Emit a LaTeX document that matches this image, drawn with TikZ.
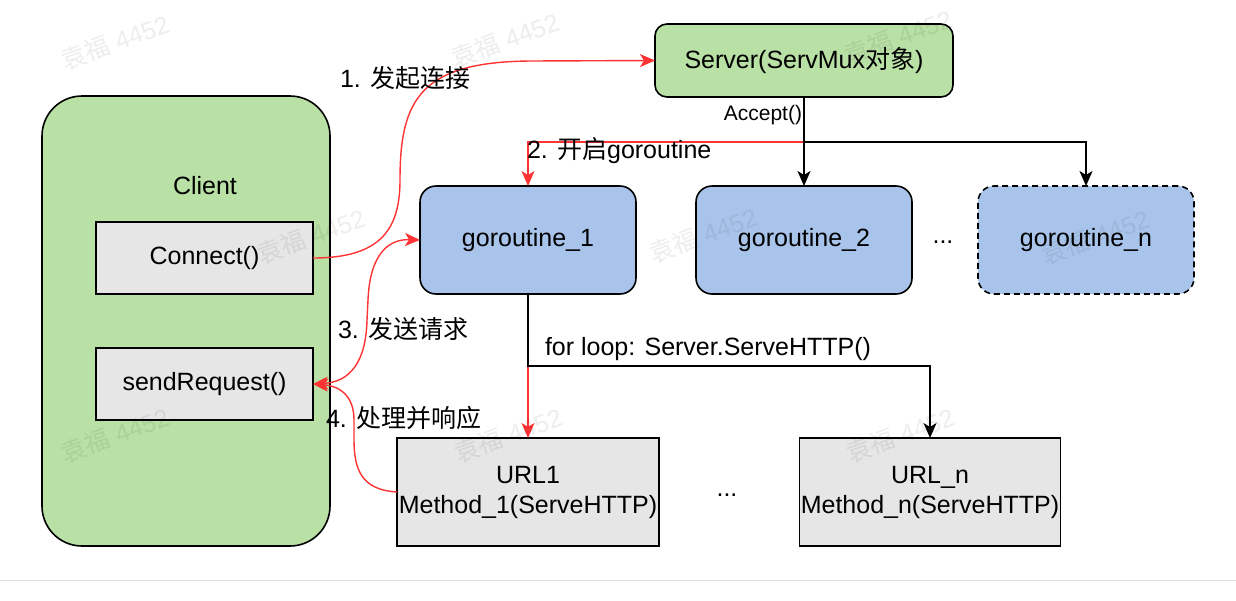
\documentclass[tikz,border=0pt]{standalone}
\usepackage{fontspec}
\setmainfont{Liberation Sans}
\newfontfamily\cjk{Noto Sans CJK SC}
\usetikzlibrary{arrows.meta}
\definecolor{gfill}{HTML}{B9E0A5}
\definecolor{bfill}{HTML}{A9C4EB}
\definecolor{kfill}{HTML}{E6E6E6}
\definecolor{redln}{HTML}{FF3333}
\begin{document}
\begin{tikzpicture}[x=1pt,y=-1pt,
  every node/.style={font=\fontsize{25}{30}\selectfont, inner sep=0pt, outer sep=0pt},
  box/.style={draw=black, line width=1.6pt},
  greenbox/.style={box, fill=gfill, rounded corners=12pt},
  bluebox/.style={box, fill=bfill, rounded corners=16pt, minimum width=216pt, minimum height=108pt},
  graybox/.style={box, fill=kfill, minimum width=217pt, minimum height=72pt},
  urlbox/.style={box, fill=kfill, minimum width=262pt, minimum height=108pt, align=center},
  tip/.style={-{Stealth[length=15pt,width=13pt,inset=4pt]}},
  redarr/.style={tip, draw=redln, line width=1.4pt},
  blkarr/.style={tip, draw=black, line width=1.4pt},
  lbl/.style={anchor=west},
  wm/.style={text=black, text opacity=0.07, rotate=20}
]
\useasboundingbox (0,0) rectangle (1236,600);
\fill[white] (0,0) rectangle (1236,600);
\draw[line width=1pt, draw=black!13] (0,580) -- (1236,580);

% nodes
\node[box, fill=gfill, rounded corners=40pt, minimum width=288pt, minimum height=450pt] (client) at (186,321) {};
\node (clientlabel) at (205,186) {Client};
\node[graybox] (connect) at (204.5,258) {Connect()};
\node[graybox] (sendreq) at (204.5,384) {sendRequest()};
\node[greenbox, minimum width=298pt, minimum height=73pt] (server) at (804,60.5) {Server(ServMux{\cjk 对象})};
\node[bluebox] (g1) at (528,240) {goroutine\_1};
\node[bluebox] (g2) at (804,240) {goroutine\_2};
\node (dots1) at (943,242) {...};
\node[bluebox, dashed, dash pattern=on 6pt off 4pt] (gn) at (1086,240) {goroutine\_n};
\node[urlbox] (url1) at (528,492) {URL1\\Method\_1(ServeHTTP)};
\node (dots2) at (727,495) {...};
\node[urlbox, minimum width=261pt] (urln) at (930,492) {URL\_n\\Method\_n(ServeHTTP)};

\coordinate (split) at (804,142);
\coordinate (split2) at (528,366);

% server -> goroutines
\draw[redarr] (server.south) -- (split) -| (g1.north);
\draw[blkarr] (split) -| (gn.north);
\draw[blkarr] (server.south) -- (g2.north);
\node[font=\fontsize{21}{25}\selectfont, anchor=east] (accept) at (802,115) {Accept()};
\node[lbl] (l2) at (527,151) {2. {\cjk 开启}goroutine};

% goroutine_1 -> urls
\draw[redarr] (g1.south) -- (url1.north);
\draw[blkarr] (g1.south) -- (split2) -| (urln.north);
\node[lbl] (lfor) at (545,349) {for loop: Server.ServeHTTP()};

% red curves
\draw[redarr] (connect.east) .. controls (380,258) and (400,230) .. (400,180)
   .. controls (400,100) and (420,62) .. (530,61) -- (server.west);
\node[lbl] (l1) at (340,78) {1. {\cjk 发起连接}};

\draw[redarr, {Stealth[length=15pt,width=13pt,inset=4pt]}-{Stealth[length=15pt,width=13pt,inset=4pt]}]
   (sendreq.east) .. controls (350,382) and (366,362) .. (367,320)
   -- (368,300) .. controls (370,252) and (390,239) .. (g1.west);
\node[lbl] (l3) at (338,329) {3. {\cjk 发送请求}};

\draw[redarr] (url1.west) .. controls (362,490) and (354,470) .. (354,440)
   -- (354,420) .. controls (354,396) and (340,386) .. (sendreq.east);
\node[lbl] (l4) at (326,418) {4. {\cjk 处理并响应}};

% watermarks (drawn on top, faint)
\foreach \wx/\wy [count=\i] in {115/42, 505/40, 898/37, 311/236, 703/235, 1095/237, 115/435, 508/435, 900/435}
  \node[wm] (wm\i) at (\wx,\wy) {{\cjk 袁福} 4452};
\end{tikzpicture}
\end{document}
